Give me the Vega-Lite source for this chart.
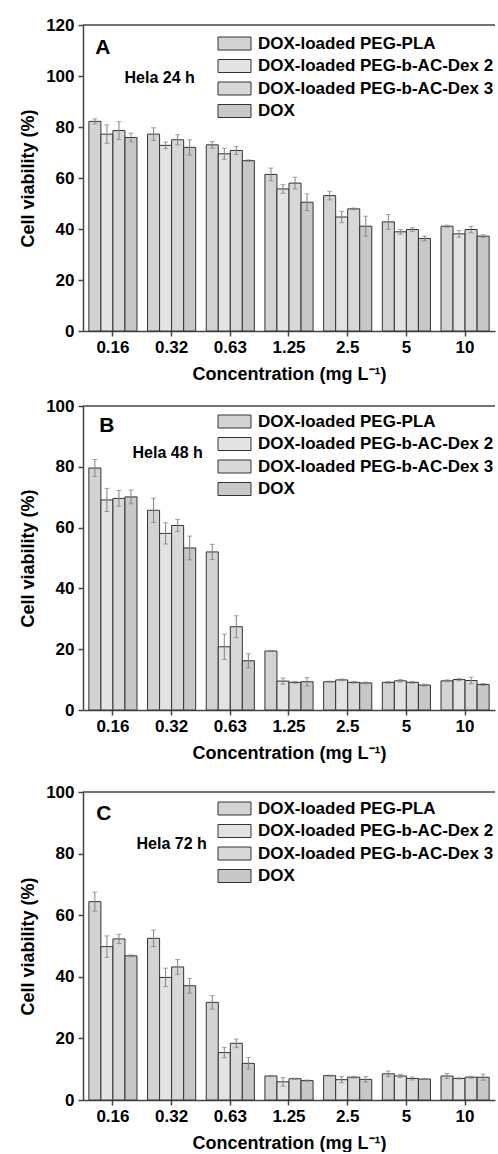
{
  "$schema": "https://vega.github.io/schema/vega-lite/v6.json",
  "padding": {"left": 19, "top": 16, "right": 0, "bottom": 0},
  "datasets": {
    "A": [
      {"c": "0.16", "g": "DOX-loaded PEG-PLA", "v": 82.2, "lo": 81.2, "hi": 83.2},
      {"c": "0.16", "g": "DOX-loaded PEG-b-AC-Dex 2", "v": 77.2, "lo": 73.6, "hi": 80.8},
      {"c": "0.16", "g": "DOX-loaded PEG-b-AC-Dex 3", "v": 78.6, "lo": 75.1, "hi": 82.1},
      {"c": "0.16", "g": "DOX", "v": 75.9, "lo": 74.2, "hi": 77.6},
      {"c": "0.32", "g": "DOX-loaded PEG-PLA", "v": 77.2, "lo": 74.7, "hi": 79.7},
      {"c": "0.32", "g": "DOX-loaded PEG-b-AC-Dex 2", "v": 72.8, "lo": 71.5, "hi": 74.1},
      {"c": "0.32", "g": "DOX-loaded PEG-b-AC-Dex 3", "v": 75.0, "lo": 73.0, "hi": 77.0},
      {"c": "0.32", "g": "DOX", "v": 72.0, "lo": 69.0, "hi": 75.0},
      {"c": "0.63", "g": "DOX-loaded PEG-PLA", "v": 73.0, "lo": 71.7, "hi": 74.3},
      {"c": "0.63", "g": "DOX-loaded PEG-b-AC-Dex 2", "v": 69.5, "lo": 67.3, "hi": 71.7},
      {"c": "0.63", "g": "DOX-loaded PEG-b-AC-Dex 3", "v": 70.8, "lo": 69.2, "hi": 72.4},
      {"c": "0.63", "g": "DOX", "v": 66.8, "lo": 66.5, "hi": 67.1},
      {"c": "1.25", "g": "DOX-loaded PEG-PLA", "v": 61.4, "lo": 58.9, "hi": 63.9},
      {"c": "1.25", "g": "DOX-loaded PEG-b-AC-Dex 2", "v": 55.7, "lo": 54.0, "hi": 57.4},
      {"c": "1.25", "g": "DOX-loaded PEG-b-AC-Dex 3", "v": 58.0, "lo": 55.7, "hi": 60.3},
      {"c": "1.25", "g": "DOX", "v": 50.5, "lo": 47.2, "hi": 53.8},
      {"c": "2.5", "g": "DOX-loaded PEG-PLA", "v": 53.1, "lo": 51.4, "hi": 54.8},
      {"c": "2.5", "g": "DOX-loaded PEG-b-AC-Dex 2", "v": 44.7, "lo": 42.5, "hi": 46.9},
      {"c": "2.5", "g": "DOX-loaded PEG-b-AC-Dex 3", "v": 47.9, "lo": 47.6, "hi": 48.2},
      {"c": "2.5", "g": "DOX", "v": 41.1, "lo": 37.2, "hi": 45.0},
      {"c": "5", "g": "DOX-loaded PEG-PLA", "v": 42.8, "lo": 39.9, "hi": 45.7},
      {"c": "5", "g": "DOX-loaded PEG-b-AC-Dex 2", "v": 38.9, "lo": 38.0, "hi": 39.8},
      {"c": "5", "g": "DOX-loaded PEG-b-AC-Dex 3", "v": 39.8, "lo": 39.1, "hi": 40.5},
      {"c": "5", "g": "DOX", "v": 36.3, "lo": 35.4, "hi": 37.2},
      {"c": "10", "g": "DOX-loaded PEG-PLA", "v": 41.1, "lo": 40.7, "hi": 41.5},
      {"c": "10", "g": "DOX-loaded PEG-b-AC-Dex 2", "v": 38.1, "lo": 36.8, "hi": 39.4},
      {"c": "10", "g": "DOX-loaded PEG-b-AC-Dex 3", "v": 39.8, "lo": 38.5, "hi": 41.1},
      {"c": "10", "g": "DOX", "v": 37.2, "lo": 36.7, "hi": 37.7}
    ],
    "B": [
      {"c": "0.16", "g": "DOX-loaded PEG-PLA", "v": 79.6, "lo": 76.8, "hi": 82.4},
      {"c": "0.16", "g": "DOX-loaded PEG-b-AC-Dex 2", "v": 69.1, "lo": 65.3, "hi": 72.9},
      {"c": "0.16", "g": "DOX-loaded PEG-b-AC-Dex 3", "v": 69.6, "lo": 67.0, "hi": 72.2},
      {"c": "0.16", "g": "DOX", "v": 70.1, "lo": 67.8, "hi": 72.4},
      {"c": "0.32", "g": "DOX-loaded PEG-PLA", "v": 65.7, "lo": 61.7, "hi": 69.7},
      {"c": "0.32", "g": "DOX-loaded PEG-b-AC-Dex 2", "v": 58.1, "lo": 54.6, "hi": 61.6},
      {"c": "0.32", "g": "DOX-loaded PEG-b-AC-Dex 3", "v": 60.7, "lo": 58.7, "hi": 62.7},
      {"c": "0.32", "g": "DOX", "v": 53.3, "lo": 49.4, "hi": 57.2},
      {"c": "0.63", "g": "DOX-loaded PEG-PLA", "v": 52.0, "lo": 49.5, "hi": 54.5},
      {"c": "0.63", "g": "DOX-loaded PEG-b-AC-Dex 2", "v": 20.8, "lo": 16.6, "hi": 25.0},
      {"c": "0.63", "g": "DOX-loaded PEG-b-AC-Dex 3", "v": 27.4, "lo": 23.8, "hi": 31.0},
      {"c": "0.63", "g": "DOX", "v": 16.2, "lo": 13.9, "hi": 18.5},
      {"c": "1.25", "g": "DOX-loaded PEG-PLA", "v": 19.4, "lo": 19.2, "hi": 19.6},
      {"c": "1.25", "g": "DOX-loaded PEG-b-AC-Dex 2", "v": 9.5, "lo": 8.5, "hi": 10.5},
      {"c": "1.25", "g": "DOX-loaded PEG-b-AC-Dex 3", "v": 9.1, "lo": 8.8, "hi": 9.4},
      {"c": "1.25", "g": "DOX", "v": 9.3, "lo": 7.9, "hi": 10.7},
      {"c": "2.5", "g": "DOX-loaded PEG-PLA", "v": 9.3, "lo": 9.1, "hi": 9.5},
      {"c": "2.5", "g": "DOX-loaded PEG-b-AC-Dex 2", "v": 9.9, "lo": 9.6, "hi": 10.2},
      {"c": "2.5", "g": "DOX-loaded PEG-b-AC-Dex 3", "v": 9.1, "lo": 8.8, "hi": 9.4},
      {"c": "2.5", "g": "DOX", "v": 8.9, "lo": 8.6, "hi": 9.2},
      {"c": "5", "g": "DOX-loaded PEG-PLA", "v": 9.1, "lo": 8.8, "hi": 9.4},
      {"c": "5", "g": "DOX-loaded PEG-b-AC-Dex 2", "v": 9.6, "lo": 9.2, "hi": 10.0},
      {"c": "5", "g": "DOX-loaded PEG-b-AC-Dex 3", "v": 9.1, "lo": 8.8, "hi": 9.4},
      {"c": "5", "g": "DOX", "v": 8.2, "lo": 7.9, "hi": 8.5},
      {"c": "10", "g": "DOX-loaded PEG-PLA", "v": 9.6, "lo": 9.3, "hi": 9.9},
      {"c": "10", "g": "DOX-loaded PEG-b-AC-Dex 2", "v": 10.0, "lo": 9.6, "hi": 10.4},
      {"c": "10", "g": "DOX-loaded PEG-b-AC-Dex 3", "v": 9.7, "lo": 8.6, "hi": 10.8},
      {"c": "10", "g": "DOX", "v": 8.4, "lo": 8.1, "hi": 8.7}
    ],
    "C": [
      {"c": "0.16", "g": "DOX-loaded PEG-PLA", "v": 64.4, "lo": 61.3, "hi": 67.5},
      {"c": "0.16", "g": "DOX-loaded PEG-b-AC-Dex 2", "v": 49.8, "lo": 46.3, "hi": 53.3},
      {"c": "0.16", "g": "DOX-loaded PEG-b-AC-Dex 3", "v": 52.3, "lo": 50.8, "hi": 53.8},
      {"c": "0.16", "g": "DOX", "v": 46.8, "lo": 46.5, "hi": 47.1},
      {"c": "0.32", "g": "DOX-loaded PEG-PLA", "v": 52.5, "lo": 49.8, "hi": 55.2},
      {"c": "0.32", "g": "DOX-loaded PEG-b-AC-Dex 2", "v": 39.8, "lo": 36.8, "hi": 42.8},
      {"c": "0.32", "g": "DOX-loaded PEG-b-AC-Dex 3", "v": 43.2, "lo": 40.8, "hi": 45.6},
      {"c": "0.32", "g": "DOX", "v": 37.1, "lo": 34.7, "hi": 39.5},
      {"c": "0.63", "g": "DOX-loaded PEG-PLA", "v": 31.7, "lo": 29.5, "hi": 33.9},
      {"c": "0.63", "g": "DOX-loaded PEG-b-AC-Dex 2", "v": 15.4, "lo": 13.7, "hi": 17.1},
      {"c": "0.63", "g": "DOX-loaded PEG-b-AC-Dex 3", "v": 18.4, "lo": 17.0, "hi": 19.8},
      {"c": "0.63", "g": "DOX", "v": 11.9, "lo": 10.0, "hi": 13.8},
      {"c": "1.25", "g": "DOX-loaded PEG-PLA", "v": 7.8, "lo": 7.6, "hi": 8.0},
      {"c": "1.25", "g": "DOX-loaded PEG-b-AC-Dex 2", "v": 5.9, "lo": 4.5, "hi": 7.3},
      {"c": "1.25", "g": "DOX-loaded PEG-b-AC-Dex 3", "v": 6.9, "lo": 6.7, "hi": 7.1},
      {"c": "1.25", "g": "DOX", "v": 6.3, "lo": 6.1, "hi": 6.5},
      {"c": "2.5", "g": "DOX-loaded PEG-PLA", "v": 7.9, "lo": 7.7, "hi": 8.1},
      {"c": "2.5", "g": "DOX-loaded PEG-b-AC-Dex 2", "v": 6.6, "lo": 5.6, "hi": 7.6},
      {"c": "2.5", "g": "DOX-loaded PEG-b-AC-Dex 3", "v": 7.4, "lo": 7.1, "hi": 7.7},
      {"c": "2.5", "g": "DOX", "v": 6.7, "lo": 5.8, "hi": 7.6},
      {"c": "5", "g": "DOX-loaded PEG-PLA", "v": 8.5, "lo": 7.6, "hi": 9.4},
      {"c": "5", "g": "DOX-loaded PEG-b-AC-Dex 2", "v": 7.8, "lo": 7.3, "hi": 8.3},
      {"c": "5", "g": "DOX-loaded PEG-b-AC-Dex 3", "v": 7.0, "lo": 6.5, "hi": 7.5},
      {"c": "5", "g": "DOX", "v": 6.8, "lo": 6.6, "hi": 7.0},
      {"c": "10", "g": "DOX-loaded PEG-PLA", "v": 7.8, "lo": 7.0, "hi": 8.6},
      {"c": "10", "g": "DOX-loaded PEG-b-AC-Dex 2", "v": 7.0, "lo": 6.8, "hi": 7.2},
      {"c": "10", "g": "DOX-loaded PEG-b-AC-Dex 3", "v": 7.4, "lo": 7.1, "hi": 7.7},
      {"c": "10", "g": "DOX", "v": 7.4, "lo": 6.4, "hi": 8.4}
    ]
  },
  "spacing": 14,
  "resolve": {"scale": {"fill": "independent"}, "legend": {"fill": "independent"}},
  "vconcat": [
    {
      "width": 412, "height": 306,
      "data": {"name": "A"},
      "layer": [
        {"mark": {"type": "bar", "stroke": "#333", "strokeWidth": 1},
         "encoding": {
           "x": {"field": "c", "type": "nominal", "title": "Concentration (mg L⁻¹)", "scale": {"domain": ["0.16","0.32","0.63","1.25","2.5","5","10"], "paddingInner": 0.18, "paddingOuter": 0.1}},
           "xOffset": {"field": "g", "type": "nominal", "scale": {"domain": ["DOX-loaded PEG-PLA","DOX-loaded PEG-b-AC-Dex 2","DOX-loaded PEG-b-AC-Dex 3","DOX"]}},
           "y": {"field": "v", "type": "quantitative", "title": "Cell viability (%)", "scale": {"domain": [0, 120], "nice": false},
                 "axis": {"values": [0,10,20,30,40,50,60,70,80,90,100,110,120], "labelExpr": "datum.value % 20 === 0 ? datum.label : ''", "tickSize": {"condition": {"test": "datum.value % 20 === 0", "value": 5}, "value": 3}}},
           "fill": {"field": "g", "type": "nominal", "scale": {"domain": ["DOX-loaded PEG-PLA","DOX-loaded PEG-b-AC-Dex 2","DOX-loaded PEG-b-AC-Dex 3","DOX"], "range": ["#d3d3d3","#e3e3e3","#d8d8d8","#c8c8c8"]},
                    "legend": {"legendX": 133, "legendY": 10}}
         }},
        {"mark": {"type": "rule", "color": "#808080", "strokeWidth": 1},
         "encoding": {
           "x": {"field": "c", "type": "nominal"},
           "xOffset": {"field": "g", "type": "nominal"},
           "y": {"field": "lo", "type": "quantitative", "title": "Cell viability (%)"},
           "y2": {"field": "hi"}
         }},
        {"mark": {"type": "tick", "color": "#808080", "thickness": 1, "size": 5},
         "encoding": {
           "x": {"field": "c", "type": "nominal"},
           "xOffset": {"field": "g", "type": "nominal"},
           "y": {"field": "hi", "type": "quantitative", "title": "Cell viability (%)"}
         }},
        {"mark": {"type": "tick", "color": "#808080", "thickness": 1, "size": 5},
         "encoding": {
           "x": {"field": "c", "type": "nominal"},
           "xOffset": {"field": "g", "type": "nominal"},
           "y": {"field": "lo", "type": "quantitative", "title": "Cell viability (%)"}
         }},
        {"data": {"values": [{}]}, "mark": {"type": "rule", "color": "#444", "strokeWidth": 1.5},
         "encoding": {"y": {"datum": 120, "type": "quantitative"}}},
        {"data": {"values": [{}]}, "mark": {"type": "text", "fontSize": 21, "fontWeight": "bold", "dx": -10},
         "encoding": {"x": {"datum": "0.16", "type": "nominal"}, "y": {"datum": 110.8, "type": "quantitative"}, "text": {"value": "A"}}},
        {"data": {"values": [{}]}, "mark": {"type": "text", "fontSize": 16, "fontWeight": "bold", "dx": -12},
         "encoding": {"x": {"datum": "0.32", "type": "nominal"}, "y": {"datum": 99.3, "type": "quantitative"}, "text": {"value": "Hela 24 h"}}}
      ]
    },
    {
      "spacing": 21,
      "resolve": {"scale": {"fill": "independent"}, "legend": {"fill": "independent"}},
      "vconcat": [
        {
          "width": 412, "height": 304,
          "data": {"name": "B"},
          "layer": [
            {"mark": {"type": "bar", "stroke": "#333", "strokeWidth": 1},
             "encoding": {
               "x": {"field": "c", "type": "nominal", "title": "Concentration (mg L⁻¹)", "scale": {"domain": ["0.16","0.32","0.63","1.25","2.5","5","10"], "paddingInner": 0.18, "paddingOuter": 0.1}},
               "xOffset": {"field": "g", "type": "nominal", "scale": {"domain": ["DOX-loaded PEG-PLA","DOX-loaded PEG-b-AC-Dex 2","DOX-loaded PEG-b-AC-Dex 3","DOX"]}},
               "y": {"field": "v", "type": "quantitative", "title": "Cell viability (%)", "scale": {"domain": [0, 100], "nice": false},
                     "axis": {"values": [0,10,20,30,40,50,60,70,80,90,100], "labelExpr": "datum.value % 20 === 0 ? datum.label : ''", "tickSize": {"condition": {"test": "datum.value % 20 === 0", "value": 5}, "value": 3}}},
               "fill": {"field": "g", "type": "nominal", "scale": {"domain": ["DOX-loaded PEG-PLA","DOX-loaded PEG-b-AC-Dex 2","DOX-loaded PEG-b-AC-Dex 3","DOX"], "range": ["#d3d3d3","#e3e3e3","#d8d8d8","#c8c8c8"]},
                        "legend": {"legendX": 133, "legendY": 7}}
             }},
            {"mark": {"type": "rule", "color": "#808080", "strokeWidth": 1},
             "encoding": {
               "x": {"field": "c", "type": "nominal"},
               "xOffset": {"field": "g", "type": "nominal"},
               "y": {"field": "lo", "type": "quantitative", "title": "Cell viability (%)"},
               "y2": {"field": "hi"}
             }},
            {"mark": {"type": "tick", "color": "#808080", "thickness": 1, "size": 5},
             "encoding": {
               "x": {"field": "c", "type": "nominal"},
               "xOffset": {"field": "g", "type": "nominal"},
               "y": {"field": "hi", "type": "quantitative", "title": "Cell viability (%)"}
             }},
            {"mark": {"type": "tick", "color": "#808080", "thickness": 1, "size": 5},
             "encoding": {
               "x": {"field": "c", "type": "nominal"},
               "xOffset": {"field": "g", "type": "nominal"},
               "y": {"field": "lo", "type": "quantitative", "title": "Cell viability (%)"}
             }},
            {"data": {"values": [{}]}, "mark": {"type": "rule", "color": "#444", "strokeWidth": 1.5},
             "encoding": {"y": {"datum": 100, "type": "quantitative"}}},
            {"data": {"values": [{}]}, "mark": {"type": "text", "fontSize": 21, "fontWeight": "bold", "dx": -6},
             "encoding": {"x": {"datum": "0.16", "type": "nominal"}, "y": {"datum": 93.3, "type": "quantitative"}, "text": {"value": "B"}}},
            {"data": {"values": [{}]}, "mark": {"type": "text", "fontSize": 16, "fontWeight": "bold", "dx": -4},
             "encoding": {"x": {"datum": "0.32", "type": "nominal"}, "y": {"datum": 84.7, "type": "quantitative"}, "text": {"value": "Hela 48 h"}}}
          ]
        },
        {
          "width": 412, "height": 308,
          "data": {"name": "C"},
          "layer": [
            {"mark": {"type": "bar", "stroke": "#333", "strokeWidth": 1},
             "encoding": {
               "x": {"field": "c", "type": "nominal", "title": "Concentration (mg L⁻¹)", "scale": {"domain": ["0.16","0.32","0.63","1.25","2.5","5","10"], "paddingInner": 0.18, "paddingOuter": 0.1}},
               "xOffset": {"field": "g", "type": "nominal", "scale": {"domain": ["DOX-loaded PEG-PLA","DOX-loaded PEG-b-AC-Dex 2","DOX-loaded PEG-b-AC-Dex 3","DOX"]}},
               "y": {"field": "v", "type": "quantitative", "title": "Cell viability (%)", "scale": {"domain": [0, 100], "nice": false},
                     "axis": {"values": [0,10,20,30,40,50,60,70,80,90,100], "labelExpr": "datum.value % 20 === 0 ? datum.label : ''", "tickSize": {"condition": {"test": "datum.value % 20 === 0", "value": 5}, "value": 3}}},
               "fill": {"field": "g", "type": "nominal", "scale": {"domain": ["DOX-loaded PEG-PLA","DOX-loaded PEG-b-AC-Dex 2","DOX-loaded PEG-b-AC-Dex 3","DOX"], "range": ["#d3d3d3","#e3e3e3","#d8d8d8","#c8c8c8"]},
                        "legend": {"legendX": 133, "legendY": 8}}
             }},
            {"mark": {"type": "rule", "color": "#808080", "strokeWidth": 1},
             "encoding": {
               "x": {"field": "c", "type": "nominal"},
               "xOffset": {"field": "g", "type": "nominal"},
               "y": {"field": "lo", "type": "quantitative", "title": "Cell viability (%)"},
               "y2": {"field": "hi"}
             }},
            {"mark": {"type": "tick", "color": "#808080", "thickness": 1, "size": 5},
             "encoding": {
               "x": {"field": "c", "type": "nominal"},
               "xOffset": {"field": "g", "type": "nominal"},
               "y": {"field": "hi", "type": "quantitative", "title": "Cell viability (%)"}
             }},
            {"mark": {"type": "tick", "color": "#808080", "thickness": 1, "size": 5},
             "encoding": {
               "x": {"field": "c", "type": "nominal"},
               "xOffset": {"field": "g", "type": "nominal"},
               "y": {"field": "lo", "type": "quantitative", "title": "Cell viability (%)"}
             }},
            {"data": {"values": [{}]}, "mark": {"type": "rule", "color": "#444", "strokeWidth": 1.5},
             "encoding": {"y": {"datum": 100, "type": "quantitative"}}},
            {"data": {"values": [{}]}, "mark": {"type": "text", "fontSize": 21, "fontWeight": "bold", "dx": -9},
             "encoding": {"x": {"datum": "0.16", "type": "nominal"}, "y": {"datum": 93.0, "type": "quantitative"}, "text": {"value": "C"}}},
            {"data": {"values": [{}]}, "mark": {"type": "text", "fontSize": 16, "fontWeight": "bold", "dx": 0},
             "encoding": {"x": {"datum": "0.32", "type": "nominal"}, "y": {"datum": 83.1, "type": "quantitative"}, "text": {"value": "Hela 72 h"}}}
          ]
        }
      ]
    }
  ],
  "config": {
    "font": "Liberation Sans",
    "view": {"stroke": null},
    "axis": {"labelFontSize": 17, "labelFontWeight": "bold", "labelColor": "#000", "titleFontSize": 18, "titleFontWeight": "bold", "titleColor": "#000", "domainColor": "#444", "domainWidth": 1.5, "tickColor": "#444", "tickWidth": 1.5, "grid": false},
    "axisX": {"tickSize": 5, "labelPadding": 3, "titlePadding": 10, "labelAngle": 0},
    "axisY": {"labelPadding": 4, "titlePadding": 8},
    "legend": {"orient": "none", "title": null, "symbolType": "M-1,-1H4.077V1H-1Z", "symbolSize": 169, "labelFontSize": 17, "labelFontWeight": "bold", "labelColor": "#000", "labelLimit": 0, "rowPadding": 4.5, "symbolStrokeColor": "#333", "symbolStrokeWidth": 1, "labelOffset": 25, "padding": 0, "symbolOpacity": 1},
    "text": {"font": "Liberation Sans", "color": "#000"}
  }
}
